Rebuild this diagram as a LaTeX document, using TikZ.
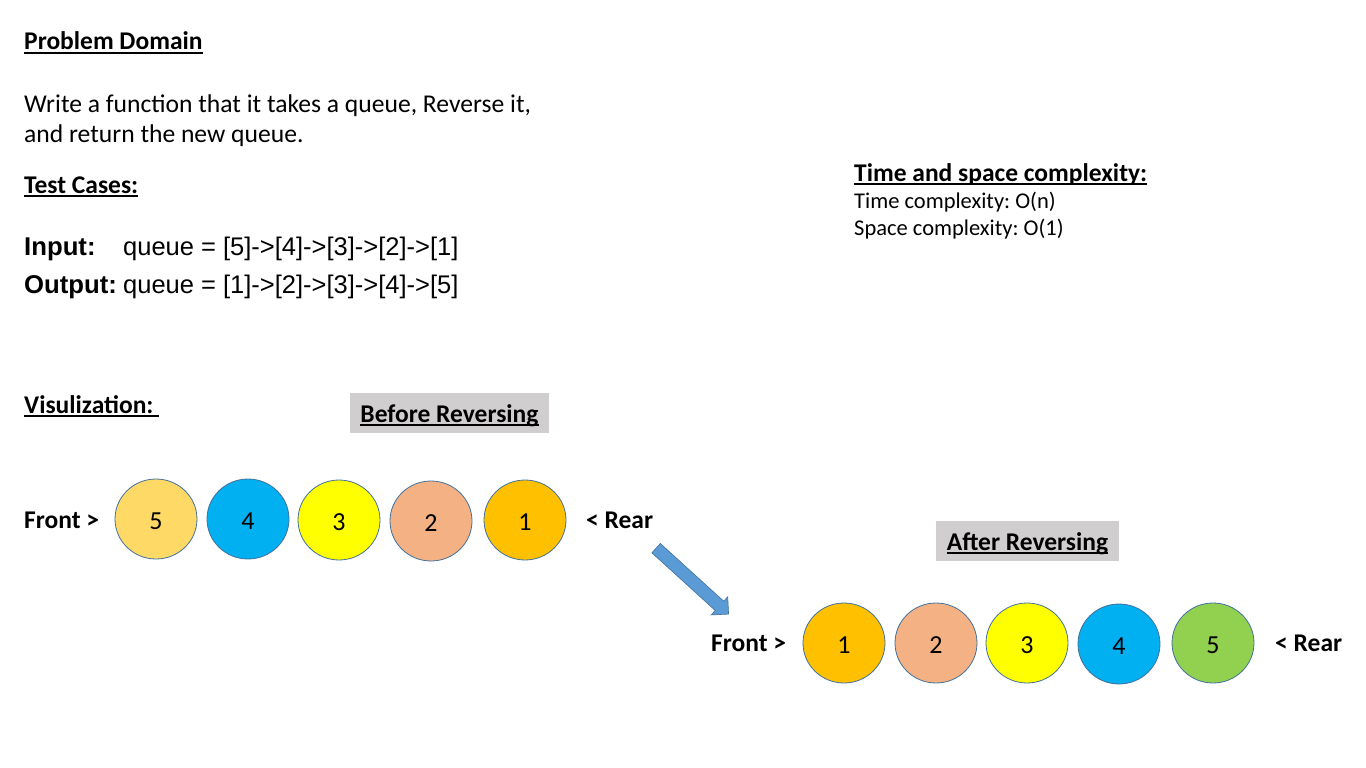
\documentclass[tikz,border=0pt]{standalone}
\usepackage{fontspec}
\setmainfont{Carlito}
\newfontfamily\arialfont{Liberation Sans}
\usetikzlibrary{shapes.geometric,shapes.arrows}
\frenchspacing
\definecolor{qyellowlight}{HTML}{FFD966}
\definecolor{qblue}{HTML}{00B0F0}
\definecolor{qyellow}{HTML}{FFFF00}
\definecolor{qsalmon}{HTML}{F4B183}
\definecolor{qorange}{HTML}{FFC000}
\definecolor{qgreen}{HTML}{92D050}
\definecolor{qedge}{HTML}{41719C}
\definecolor{qarrow}{HTML}{5B9BD5}
\definecolor{qgray}{HTML}{D0CECE}
\newcommand\ulin[1]{\setbox0\hbox{#1}\rlap{\rule[-3.6pt]{\wd0}{1.9pt}}\box0}
\tikzset{
	txt/.style={anchor=base west, inner sep=0pt, font=\fontsize{25.5}{30}\selectfont},
	bigtxt/.style={txt, font=\bfseries\fontsize{25.5}{30}\selectfont},
	qitem/.style={ellipse, draw=qedge, line width=0.8pt, minimum width=82pt, minimum height=80pt, inner sep=0pt, text height=20pt, text depth=0pt, font=\fontsize{26}{30}\selectfont},
	endlbl/.style={inner sep=0pt, font=\bfseries\fontsize{25.5}{30}\selectfont},
	grayhead/.style={fill=qgray, minimum height=40pt, inner sep=0pt, text height=19pt, text depth=0pt, font=\bfseries\fontsize{25.5}{30}\selectfont}
}
\begin{document}
\begin{tikzpicture}[x=1pt, y=-1pt]
			%%%%% PAGE %%%%%
			\useasboundingbox (0, 0) rectangle (1366, 768);
			
			\node[bigtxt] (domain) at (24, 50) {\ulin{Problem Domain}};
			\node[txt, font=\fontsize{25.6}{30}\selectfont] (task1) at (24, 112) {Write a function that it takes a queue, Reverse it,};
			\node[txt, font=\fontsize{25.6}{30}\selectfont] (task2) at (24, 142) {and return the new queue.};
			
			\node[bigtxt] (cases) at (24, 193) {\ulin{Test Cases:}};
			\node[txt, font=\arialfont\bfseries\fontsize{25.7}{30}\selectfont] (inlbl) at (24, 255) {Input:};
			\node[txt, font=\arialfont\fontsize{25.5}{30}\selectfont] (inval) at (123, 255) {queue = [5]->[4]->[3]->[2]->[1]};
			\node[txt, font=\arialfont\bfseries\fontsize{25.7}{30}\selectfont] (outlbl) at (24, 293) {Output:};
			\node[txt, font=\arialfont\fontsize{25.5}{30}\selectfont] (outval) at (123, 293) {queue = [1]->[2]->[3]->[4]->[5]};
			
			\node[bigtxt] (cplx) at (854, 181) {\ulin{Time and space complexity:}};
			\node[txt, font=\fontsize{22.5}{26}\selectfont] (tcplx) at (854, 208) {Time complexity: O(n)};
			\node[txt, font=\fontsize{22.5}{26}\selectfont] (scplx) at (854, 235) {Space complexity: O(1)};
			
			\node[bigtxt] (visu) at (24, 413) {\ulin{Visulization:\ }};
			
			%%%%% BEFORE %%%%%
			\node[grayhead, minimum width=199pt] (before) at (449.5, 413) {\ulin{Before Reversing}};
			
			\node[endlbl, anchor=west] (bfront) at (24, 520) {Front >};
			\node[qitem, fill=qyellowlight] (b5) at (156, 519) {5};
			\node[qitem, fill=qblue] (b4) at (248, 519) {4};
			\node[qitem, fill=qyellow] (b3) at (339, 520) {3};
			\node[qitem, fill=qsalmon] (b2) at (431, 521) {2};
			\node[qitem, fill=qorange] (b1) at (525, 520) {1};
			\node[endlbl, anchor=west] (brear) at (586, 520) {< Rear};
			
			\node[single arrow, fill=qarrow, draw=qedge, line width=0.6pt, rotate=-42.3,
				minimum height=98pt, inner xsep=0pt, inner ysep=6pt,
				single arrow head extend=6pt, single arrow tip angle=90] (turn) at (690, 579) {};
			
			%%%%% AFTER %%%%%
			\node[grayhead, minimum width=183pt] (after) at (1027.5, 541) {\ulin{After Reversing}};
			
			\node[endlbl, anchor=west] (afront) at (711, 643) {Front >};
			\node[qitem, fill=qorange] (a1) at (844, 643) {1};
			\node[qitem, fill=qsalmon] (a2) at (936, 643) {2};
			\node[qitem, fill=qyellow] (a3) at (1027, 643) {3};
			\node[qitem, fill=qblue] (a4) at (1119, 644) {4};
			\node[qitem, fill=qgreen] (a5) at (1213, 643) {5};
			\node[endlbl, anchor=west] (arear) at (1275, 643) {< Rear};
			
			%%%%% END %%%%%
\end{tikzpicture}
\end{document}
